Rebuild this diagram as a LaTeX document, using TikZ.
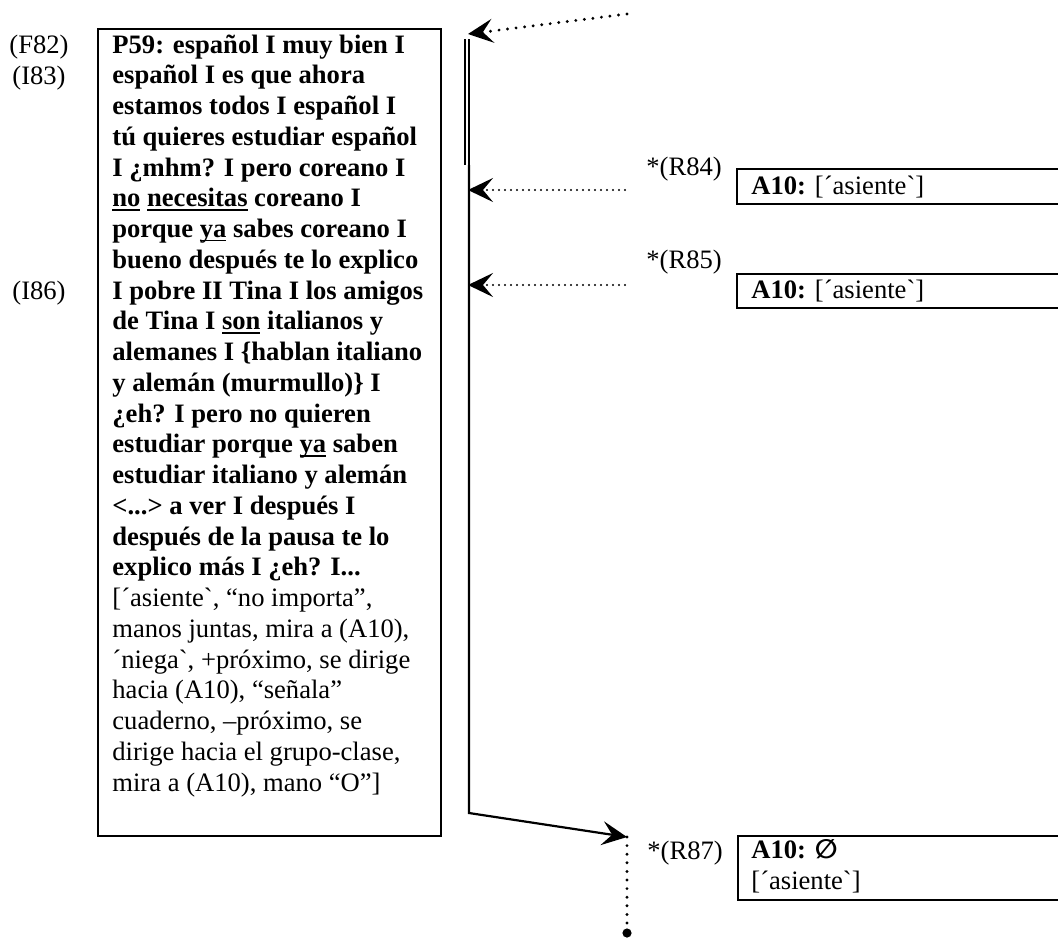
\documentclass[tikz,border=0pt]{standalone}
\usepackage{fontspec}
% plain characters: keep ` and ' as typed
\defaultfontfeatures{}
\defaultfontfeatures[\rmfamily]{}
\setmainfont{Liberation Serif}
\newfontfamily\symfont{DejaVu Sans}
\usetikzlibrary{arrows.meta}
% word-processor style underline
\newcommand\uln[1]{\setbox0\hbox{#1}\rlap{\rule[-1.9pt]{\wd0}{0.8pt}}\box0\relax}
\newcommand\fsz{\fontsize{13.3}{15.375}\selectfont}
\begin{document}
\begin{tikzpicture}[x=0.5pt,y=-0.5pt,
  every node/.style={font=\fsz, inner sep=0pt},
  frame/.style={draw, line width=1.2pt},
  tip/.style={-{Stealth[length=12.5pt,width=12pt,inset=5pt]}},
  bigdots/.style={line width=1.6pt, dash pattern=on 0pt off 4.3pt, line cap=round},
  smalldots/.style={line width=1.2pt, dash pattern=on 0pt off 3pt, line cap=round},
  turnno/.style={anchor=base},
]
\useasboundingbox (0,0) rectangle (1058,938);

% turn numbers on the left
\node[turnno] (f82) at (39,53) {(F82)};
\node[turnno] (i83) at (39,84) {(I83)};
\node[turnno] (i86) at (39,299) {(I86)};

% teacher's turn (base anchor = baseline of the last line)
\node[frame, anchor=north west, minimum width=171.5pt, minimum height=403.5pt] (turnbox) at (97,28) {};
\node[anchor=base west, align=left, font=\fsz\bfseries] (turn) at (112,791) {%
P59: español I muy bien I\\
español I es que ahora\\
estamos todos I español I\\
tú quieres estudiar español\\
I ¿mhm? I pero coreano I\\
\uln{no} \uln{necesitas} coreano I\\
porque \uln{ya} sabes coreano I\\
bueno después te lo explico\\
I pobre II Tina I los amigos\\
de Tina I \uln{son} italianos y\\
alemanes I \{hablan italiano\\
y alemán (murmullo)\} I\\
¿eh? I pero no quieren\\
estudiar porque \uln{ya} saben\\
estudiar italiano y alemán\\
<...> a ver I después I\\
después de la pausa te lo\\
explico más I ¿eh? I...\\
\mdseries [´asiente`, “no importa”,\\
\mdseries manos juntas, mira a (A10),\\
\mdseries ´niega`, +próximo, se dirige\\
\mdseries hacia (A10), “señala”\\
\mdseries cuaderno, –próximo, se\\
\mdseries dirige hacia el grupo-clase,\\
\mdseries mira a (A10), mano “O”]};

% time line
\coordinate (vtop) at (467,39);
\coordinate (vdbl) at (467,165);
\coordinate (vmid) at (469,165);
\coordinate (vbot) at (469,813);
\draw[double, line width=0.85pt, double distance=1.35pt] (vtop) -- (vdbl);

% incoming signals
\coordinate (in0) at (627,14);
\coordinate (t0) at (468,34);
\draw[bigdots, tip] (in0) -- (t0);

\node[anchor=base west] (l84) at (646,175) {*(R84)};
\node[frame, anchor=north west, minimum width=170pt, minimum height=17.5pt] (b84) at (736,168) {};
\node[anchor=base west] (a84) at (751,194) {\textbf{A10:} [´asiente`]};
\coordinate (in84) at (625,190);
\coordinate (t84) at (468,190);
\draw[smalldots, tip] (in84) -- (t84);

\node[anchor=base west] (l85) at (646,268) {*(R85)};
\node[frame, anchor=north west, minimum width=170pt, minimum height=17pt] (b85) at (736,273) {};
\node[anchor=base west] (a85) at (751,298) {\textbf{A10:} [´asiente`]};
\coordinate (in85) at (625,285);
\coordinate (t85) at (468,285);
\draw[smalldots, tip] (in85) -- (t85);

% outgoing move
\coordinate (p87) at (627,837);
\coordinate (e87) at (627,933);
\draw[line width=1.1pt, tip] (vmid) -- (vbot) -- (p87);
\draw[bigdots] (p87) -- (e87);
\fill (e87) circle[radius=2.3pt];

\node[anchor=base west] (l87) at (647,859) {*(R87)};
\node[frame, anchor=north west, minimum width=170pt, minimum height=32pt] (b87) at (737,835) {};
\node[anchor=base west, align=left] (a87) at (751,889) {\textbf{A10:} {\symfont\bfseries ∅}\\{}[´asiente`]};
\end{tikzpicture}
\end{document}
